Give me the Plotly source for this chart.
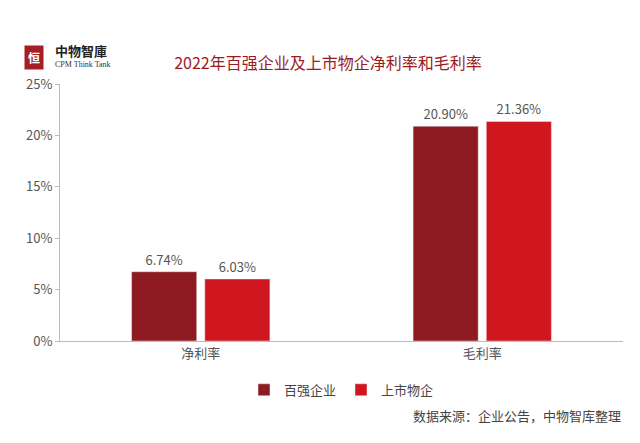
import plotly.graph_objects as go

categories = ["净利率", "毛利率"]
top100 = [6.74, 20.90]
listed = [6.03, 21.36]
yticks = [0, 5, 10, 15, 20, 25]

font = "Noto Sans CJK SC"
fig = go.Figure()
fig.add_bar(name="百强企业", x=categories, y=top100, marker_color="#8E1B22",
            text=[f"{v:.2f}%" for v in top100], textposition="outside",
            textfont=dict(color="#555", size=13), cliponaxis=False)
fig.add_bar(name="上市物企", x=categories, y=listed, marker_color="#D0161E",
            text=[f"{v:.2f}%" for v in listed], textposition="outside",
            textfont=dict(color="#555", size=13), cliponaxis=False)
fig.update_layout(
    width=640, height=443, paper_bgcolor="white", plot_bgcolor="white",
    font=dict(family=font, color="#555", size=13),
    margin=dict(l=52, r=25, t=76, b=110, autoexpand=False),
    barmode="group", bargap=0.48, bargroupgap=0.11,
    title=dict(text="2022年百强企业及上市物企净利率和毛利率", x=0.5, xanchor="center",
               y=0.875, yanchor="middle", font=dict(color="#9B1B22", size=16, family=font)),
    yaxis=dict(range=[0, 25], tickvals=yticks, ticktext=[f"{v}%" for v in yticks],
               showgrid=False, showline=True, linecolor="#bbb", ticks="outside",
               tickcolor="#bbb", ticklen=4, zeroline=False),
    xaxis=dict(showline=True, linecolor="#bbb", ticks="", tickfont=dict(size=13)),
    legend=dict(orientation="h", x=0.5, xanchor="center", y=-0.19, yanchor="middle",
                font=dict(size=13, color="#444")),
    showlegend=True,
)
fig.add_annotation(text="数据来源：企业公告，中物智库整理", xref="paper", yref="paper",
                   x=1.0, y=-0.29, xanchor="right", yanchor="middle", showarrow=False,
                   font=dict(size=13, color="#444"))
fig.add_annotation(text="<b>中物智庫</b>", xref="paper", yref="paper", x=-0.012, y=1.13,
                   xanchor="left", yanchor="middle", showarrow=False,
                   font=dict(size=13, color="#222", family="Noto Sans CJK TC"))
fig.add_annotation(text="CPM Think Tank", xref="paper", yref="paper", x=-0.012, y=1.075,
                   xanchor="left", yanchor="middle", showarrow=False,
                   font=dict(size=8, color="#333", family="Liberation Serif"))
fig.add_annotation(text="<b>恒</b>", xref="paper", yref="paper", x=-0.046, y=1.105,
                   xanchor="center", yanchor="middle", showarrow=False,
                   bgcolor="#A51E24", borderpad=3, font=dict(size=12, color="white"))
fig.write_html("out.html")
